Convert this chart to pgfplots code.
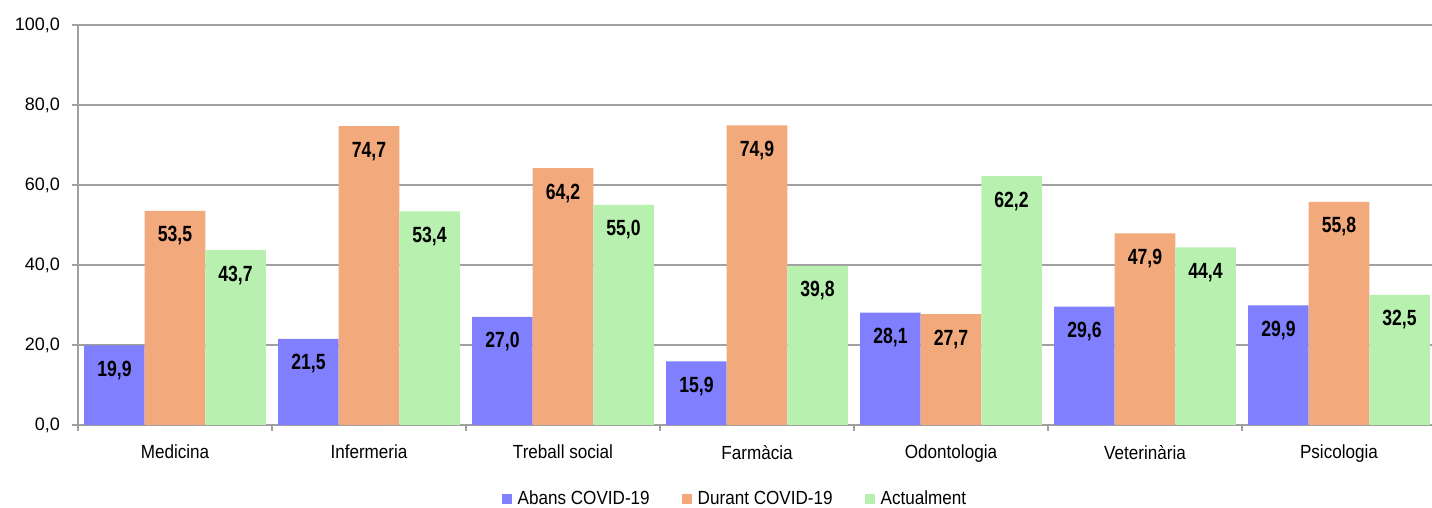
\documentclass[border=0pt]{standalone}
\usepackage{fontspec}
\setmainfont{Liberation Sans}
\newfontfamily\regfont[FakeStretch=0.9]{Liberation Sans}
\newfontfamily\narrowfont[FakeStretch=0.8]{Liberation Sans}
\usepackage{pgfplots}
\pgfplotsset{compat=1.18}
\definecolor{cabans}{HTML}{8080FF}
\definecolor{cdurant}{HTML}{F2A97B}
\definecolor{cactual}{HTML}{B8F0B0}
\definecolor{cgrid}{HTML}{A0A0A0}

\begin{document}
\begin{tikzpicture}
\useasboundingbox (-39pt,-41.5pt) rectangle (677pt,212.5pt);
\begin{axis}[
  scale only axis,
  width=679pt, height=200pt,
  xmin=-0.5, xmax=6.5,
  ymin=0, ymax=100,
  enlargelimits=false,
  axis lines=left,
  axis line style={-, cgrid, line width=0.8pt},
  ymajorgrids,
  grid style={cgrid, line width=0.8pt},
  ytick={0,20,...,100},
  xtick={0,...,6},
  xticklabels={Medicina,Infermeria,Treball social,Farmàcia,Odontologia,Veterinària,Psicologia},
  major x tick style={draw=none},
  minor xtick={-0.5,0.5,...,6.5},
  minor x tick style={cgrid, line width=0.8pt},
  minor tick length=3pt,
  major tick length=3pt,
  tick align=outside,
  y tick style={cgrid, line width=0.8pt},
  yticklabel style={font=\fontsize{9}{10}\selectfont, xshift=-2.5pt},
  xticklabel style={font=\regfont\fontsize{9.5}{10}\selectfont, yshift=-3.5pt},
  /pgf/number format/.cd, use comma, fixed, fixed zerofill, precision=1, assume math mode=true,
  /pgfplots/.cd,
  ybar=0pt,
  bar width=0.312,
  nodes near coords,
  nodes near coords style={anchor=center, yshift=-12.5pt, font=\narrowfont\bfseries\fontsize{11}{12}\selectfont, black},
  legend columns=3,
  legend style={draw=none, fill=none, at={(0.4845,-0.185)}, anchor=center,
    font=\regfont\fontsize{9.5}{10}\selectfont,
    /tikz/every odd column/.append style={column sep=1pt},
    /tikz/every even column/.append style={column sep=14pt}},
  legend image code/.code={\fill[#1] (0pt,-2.5pt) rectangle (5pt,2.5pt);},
]
\addplot[fill=cabans, draw=none, bar shift=-0.312]
  coordinates {(0,19.9)(1,21.5)(2,27.0)(3,15.9)(4,28.1)(5,29.6)(6,29.9)};
\addlegendentry{Abans COVID-19}
\addplot[fill=cdurant, draw=none, bar shift=0]
  coordinates {(0,53.5)(1,74.7)(2,64.2)(3,74.9)(4,27.7)(5,47.9)(6,55.8)};
\addlegendentry{Durant COVID-19}
\addplot[fill=cactual, draw=none, bar shift=0.312]
  coordinates {(0,43.7)(1,53.4)(2,55.0)(3,39.8)(4,62.2)(5,44.4)(6,32.5)};
\addlegendentry{Actualment}
\end{axis}
\end{tikzpicture}
\end{document}
